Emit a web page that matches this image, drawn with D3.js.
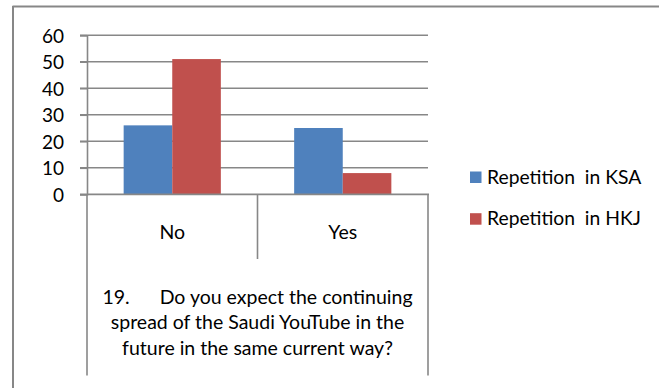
<!DOCTYPE html>
<html><head><meta charset="utf-8">
<script src="https://cdn.jsdelivr.net/npm/d3@7/dist/d3.min.js"></script>
<style>
html,body{margin:0;padding:0;background:#fff;}
svg text{font-family:Lato,"Noto Sans",sans-serif;fill:#000;}
</style></head>
<body><svg id="c" width="659" height="388"></svg>
<script>
const categories = ["No", "Yes"];
const seriesNames = ["Repetition  in KSA", "Repetition  in HKJ"];
const ksaValues = [26, 25];
const hkjValues = [51, 8];
const yTicks = [0, 10, 20, 30, 40, 50, 60];
const titleLines = ["19.      Do you expect the continuing", "spread of the Saudi YouTube in the", "future in the same current way?"];
const colors = ["#4F81BD", "#C0504D"];

const svg = d3.select("#c");
const grid = "#878787";
const FS = "19.5px";
// outer frame (top and left visible)
svg.append("line").attr("x1",12.5).attr("x2",659).attr("y1",6.5).attr("y2",6.5).attr("stroke",grid).attr("stroke-width",2);
svg.append("line").attr("x1",13).attr("x2",13).attr("y1",6).attr("y2",388).attr("stroke",grid).attr("stroke-width",2);

const L = 87, R = 428, T = 35.2, B = 194.3;
const y = d3.scaleLinear().domain([0, 60]).range([B, T]);
const x0 = d3.scaleBand().domain(categories).range([L, R]).paddingInner(0.43).paddingOuter(0.215);
const x1 = d3.scaleBand().domain(seriesNames).range([0, x0.bandwidth()]);

// gridlines
svg.append("g").selectAll("line").data(yTicks.filter(d=>d>0)).join("line")
  .attr("x1", 80).attr("x2", R).attr("y1", d=>y(d)).attr("y2", d=>y(d))
  .attr("stroke", grid).attr("stroke-width", 1.6);

// y axis
const yAxis = d3.axisLeft(y).tickValues(yTicks).tickSize(7).tickPadding(16).tickFormat(d3.format("d"));
const gy = svg.append("g").attr("transform", `translate(${L},0)`).call(yAxis);
gy.select(".domain").attr("stroke", grid).attr("stroke-width", 1.6);
gy.selectAll(".tick line").attr("stroke", grid).attr("stroke-width", 1.6);
gy.selectAll(".tick text").style("font-size","19px").attr("dy","0.36em");

// bars
const data = categories.map((c,i)=>({cat:c, vals:[ksaValues[i], hkjValues[i]]}));
const g = svg.append("g").selectAll("g").data(data).join("g")
  .attr("transform", d=>`translate(${x0(d.cat)},0)`);
g.selectAll("rect").data(d=>d.vals.map((v,j)=>({v, s:seriesNames[j], j}))).join("rect")
  .attr("x", d=>x1(d.s)).attr("width", x1.bandwidth())
  .attr("y", d=>y(d.v)).attr("height", d=>B - y(d.v))
  .attr("fill", d=>colors[d.j]);

// x axis line
svg.append("line").attr("x1",80).attr("x2",R+1).attr("y1",B).attr("y2",B).attr("stroke",grid).attr("stroke-width",1.8);
// category box lines
const step = x0.step();
const bounds = [L, L + step, R];
svg.append("g").selectAll("line").data(bounds).join("line")
  .attr("x1", d=>d).attr("x2", d=>d).attr("y1", B).attr("y2", (d,i)=> i===1 ? 259 : 375.5)
  .attr("stroke", grid).attr("stroke-width", 1.6);

// category labels
svg.append("g").selectAll("text").data(categories).join("text")
  .attr("x", d=>x0(d) + x0.bandwidth()/2).attr("y", 238.5)
  .attr("text-anchor","middle").style("font-size",FS).text(d=>d);

// axis title lines
svg.append("g").selectAll("text").data(titleLines).join("text")
  .attr("x", (L+R)/2).attr("y", (d,i)=>303.5 + i*25.8)
  .attr("text-anchor","middle").style("font-size",FS).style("white-space","pre")
  .attr("xml:space","preserve").text(d=>d);

// legend
const lg = svg.append("g").selectAll("g").data(seriesNames).join("g")
  .attr("transform",(d,i)=>`translate(470,${171.5 + i*41.7})`);
lg.append("rect").attr("width",11.5).attr("height",11.5).attr("fill",(d,i)=>colors[i]);
lg.append("text").attr("x",17).attr("y",12).style("font-size","19.3px")
  .style("white-space","pre").attr("xml:space","preserve").text(d=>d);
</script></body></html>
